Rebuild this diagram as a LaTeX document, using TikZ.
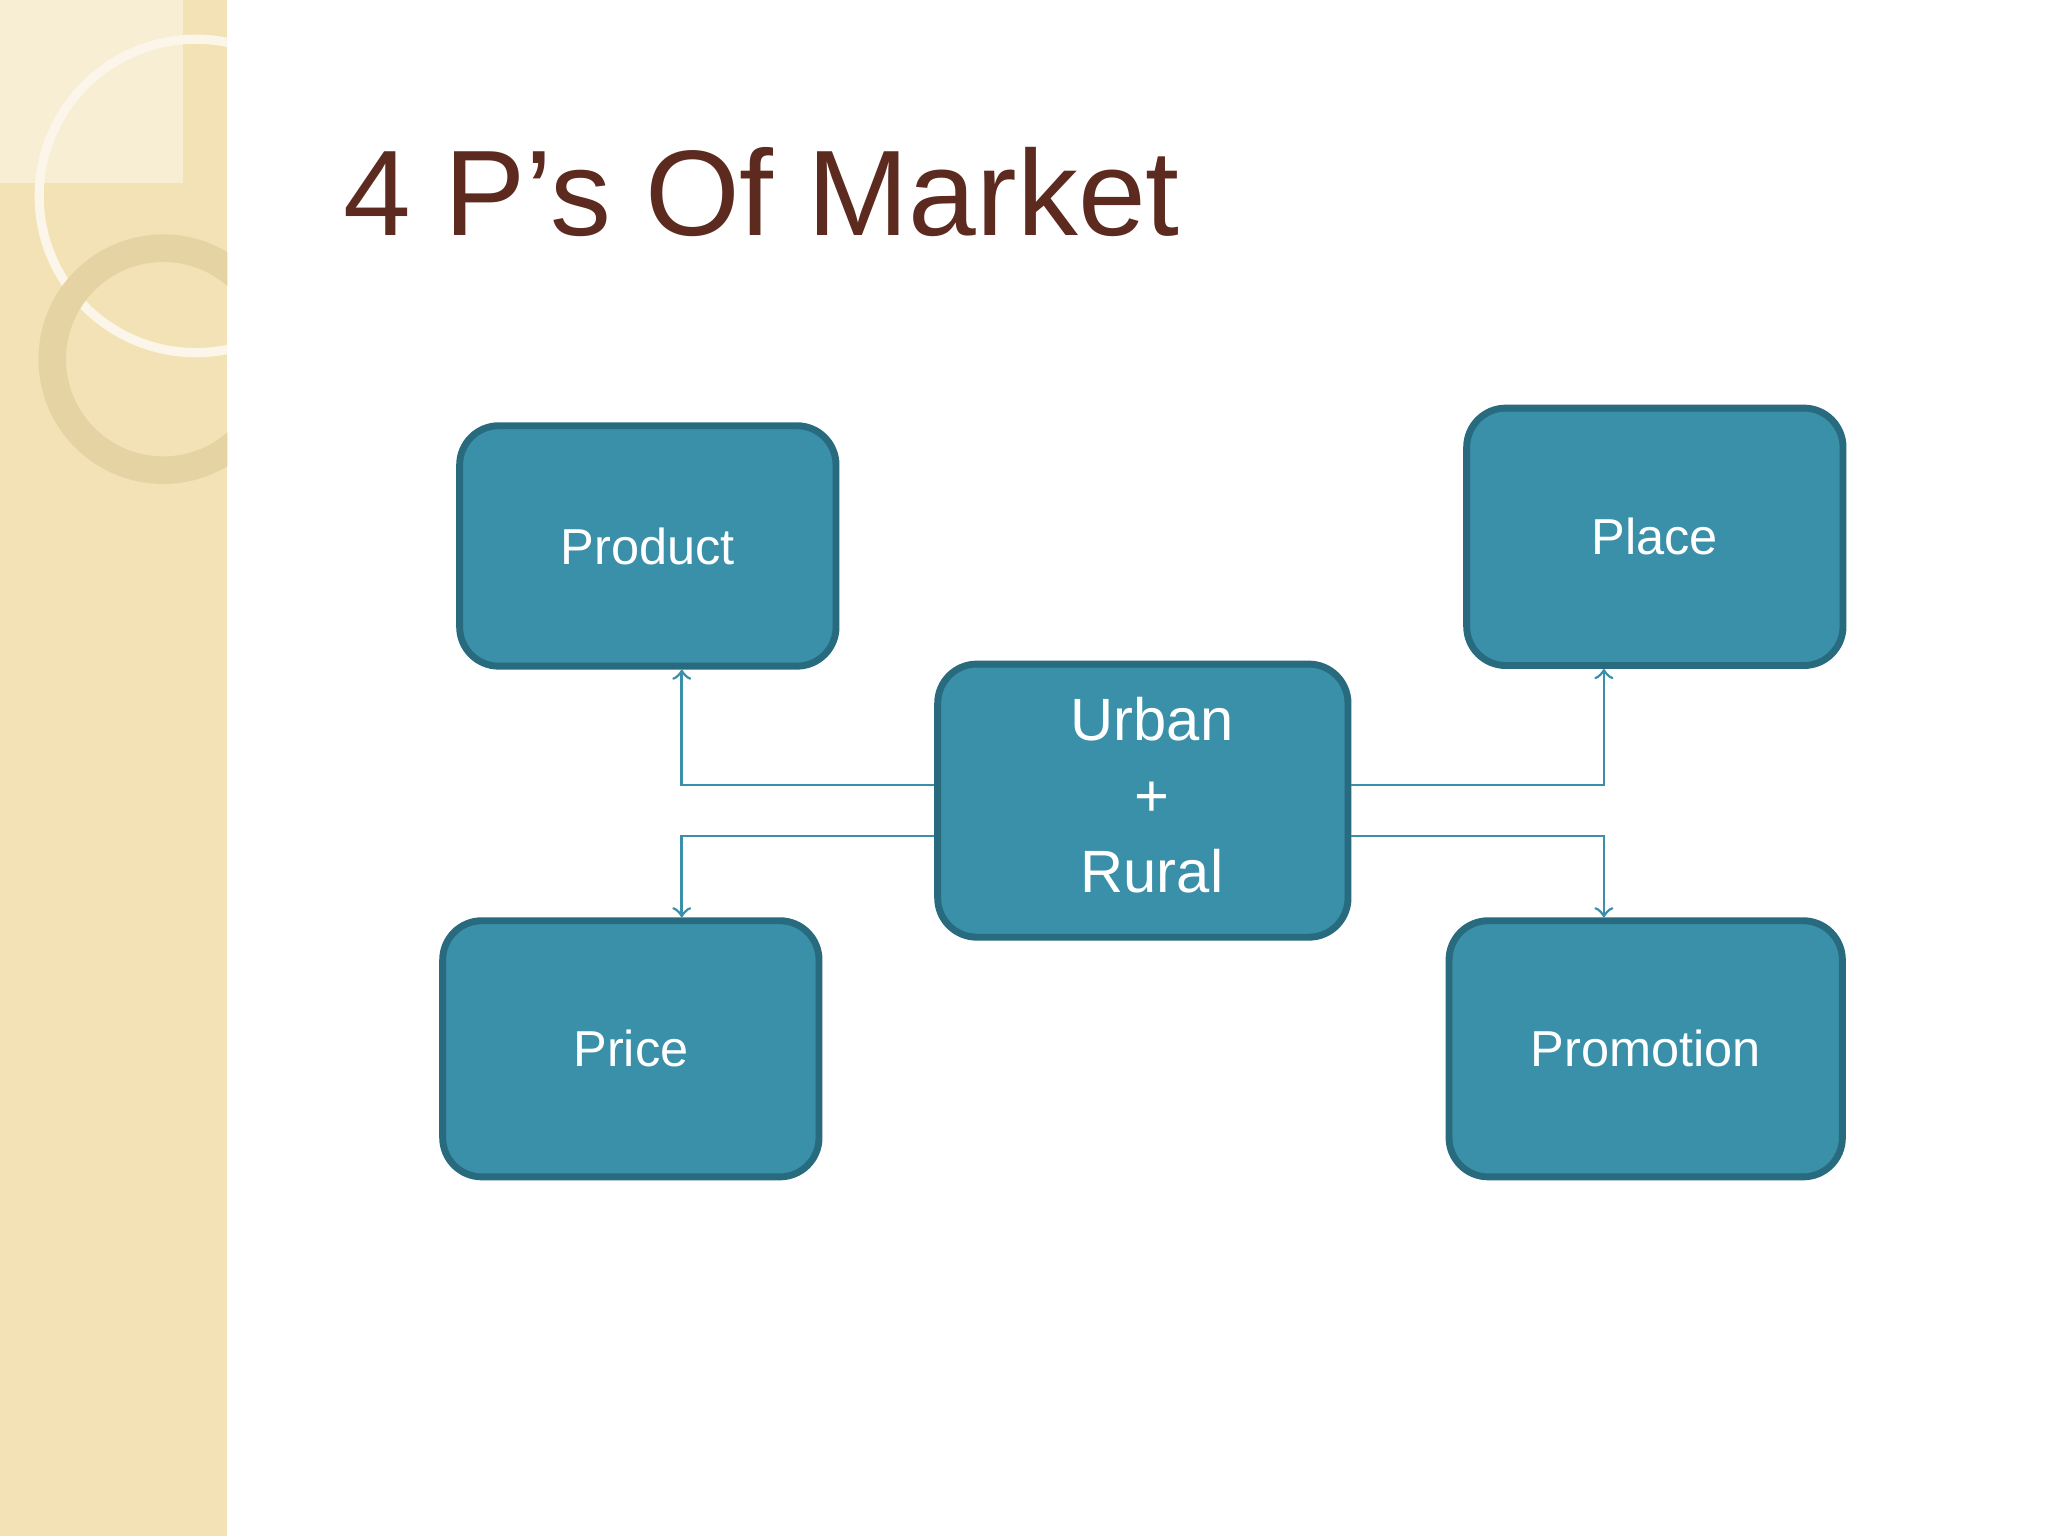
\documentclass[tikz,border=0pt]{standalone}
\usepackage{fontspec}
\setmainfont{Liberation Sans}
\usetikzlibrary{calc}
\definecolor{strip}{HTML}{F3E2B6}
\definecolor{ring}{HTML}{E6D3A3}
\definecolor{titlebrown}{HTML}{5C2A1E}
\definecolor{boxfill}{HTML}{3A8FA9}
\definecolor{boxline}{HTML}{286A7E}
\begin{document}
\begin{tikzpicture}[x=0.01cm,y=-0.01cm]
		\tikzstyle{pbox}=[rectangle, rounded corners=0.3cm, draw=boxline, line width=1.5pt, fill=boxfill, text=white, font=\fontsize{11}{13}\selectfont]
		\tikzstyle{conn}=[->, draw=boxfill, line width=0.6pt, >=to]

		\useasboundingbox (0,0) rectangle (1568,1176);
		\fill[white] (0,0) rectangle (1568,1176);

		% left strip
		\fill[strip] (0,0) rectangle (174,1176);
		\fill[strip!60!white] (0,0) rectangle (140,140);
		\begin{scope}
			\clip (0,0) rectangle (174,1176);
			\draw[white!70!strip, line width=2pt] (150,150) circle (120);
			\draw[ring, line width=6pt] (125,275) circle (85);
		\end{scope}

		% title
		\node[anchor=base west, text=titlebrown, inner sep=0pt, font=\fontsize{26.5}{30}\selectfont] (title) at (262,180) {4 P’s Of Market};

		\node[pbox, minimum width=2.88cm, minimum height=1.84cm] (product) at (496,418) {Product};
		\node[pbox, minimum width=2.88cm, minimum height=1.97cm] (place) at (1267,411) {Place};
		\node[pbox, minimum width=3.14cm, minimum height=2.09cm, align=center, font=\fontsize{13}{16.5}\selectfont] (urban) at (875,613) {};
		\node[text=white, align=center, font=\fontsize{13}{16.5}\selectfont] (urbantext) at (882,609) {Urban\\+\\Rural};
		\node[pbox, minimum width=2.88cm, minimum height=1.96cm] (price) at (483,803) {Price};
		\node[pbox, minimum width=3.01cm, minimum height=1.96cm] (promotion) at (1260,803) {Promotion};

		\draw[conn] ($(urban.west)+(0,-12)$) -| ($(product.south)+(26,0)$);
		\draw[conn] ($(urban.west)+(0,27)$) -| ($(price.north)+(39,0)$);
		\draw[conn] ($(urban.east)+(0,-12)$) -| ($(place.south)+(-39,0)$);
		\draw[conn] ($(urban.east)+(0,27)$) -| ($(promotion.north)+(-32,0)$);
	\end{tikzpicture}
\end{document}
